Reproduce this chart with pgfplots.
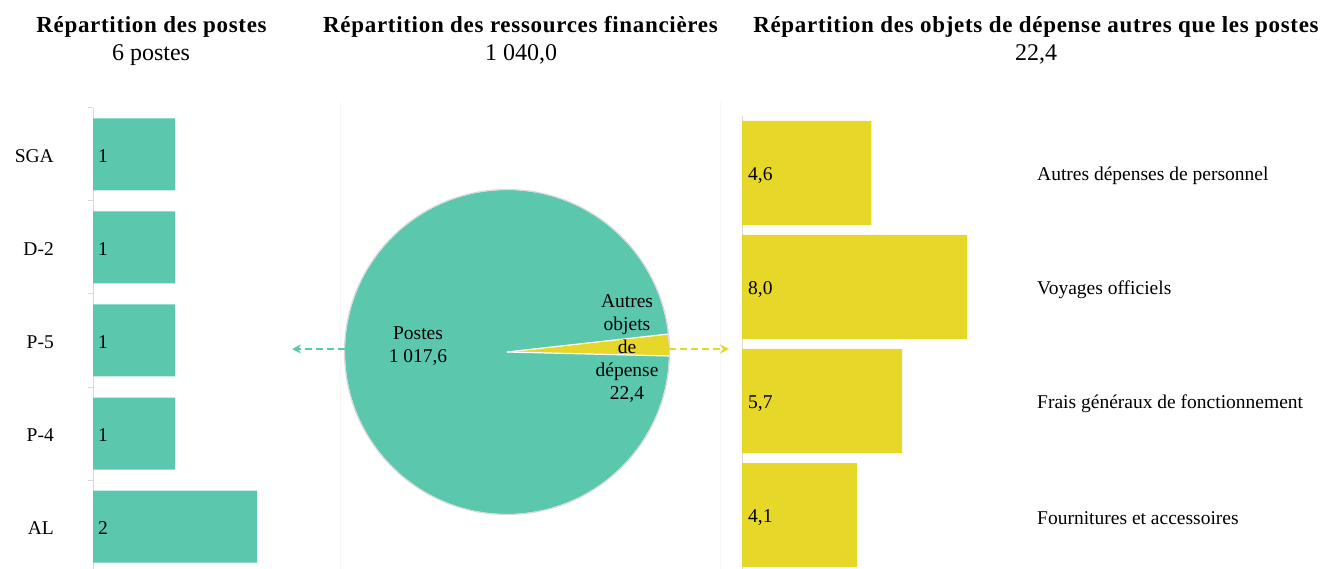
\documentclass[border=0pt]{standalone}
\usepackage{fontspec}
\setmainfont{Liberation Serif}
\usepackage{pgfplots}
\pgfplotsset{compat=1.18}
\usetikzlibrary{arrows.meta}
\definecolor{vert}{RGB}{91,200,174}
\definecolor{jaune}{RGB}{230,215,40}
\definecolor{axisgray}{RGB}{217,217,217}
\definecolor{faint}{RGB}{246,246,246}
\newcommand{\lab}{\fontsize{19.5bp}{23bp}\selectfont}
\newcommand{\ttl}{\fontsize{23bp}{27bp}\selectfont\bfseries\addfontfeatures{LetterSpace=3}}
\newcommand{\sub}{\fontsize{24bp}{28bp}\selectfont}
\def\postes{1017.6}
\def\autres{22.4}
\begin{document}
\begin{tikzpicture}[x=1bp,y=1bp]
\useasboundingbox (0,0) rectangle (1325,569);
% ---------- left panel: posts ----------
\begin{axis}[
  at={(93bp,461bp)}, anchor=north west,
  scale only axis, width=205bp, height=465bp,
  xmin=0, xmax=2.5, ymin=-0.5, ymax=4.5, y dir=reverse,
  axis x line=none, axis y line*=left,
  axis line style={axisgray, line width=1bp},
  ytick={0,1,2,3,4}, yticklabels={SGA,D-2,P-5,P-4,AL},
  major tick length=0pt,
  minor ytick={-0.5,0.5,1.5,2.5,3.5,4.5},
  minor tick length=5bp, tick align=outside,
  tick style={axisgray, line width=1bp},
  yticklabel style={font=\lab, anchor=east, inner sep=0pt, xshift=-39bp, yshift=-2bp},
  clip=false,
]
\addplot[xbar, bar width=72bp, bar shift=0pt, fill=vert, draw=none]
  coordinates {(1,0) (1,1) (1,2) (1,3) (2,4)};
\addplot[draw=none, mark=none, nodes near coords, point meta=explicit symbolic,
  nodes near coords style={anchor=west, font=\lab, inner sep=0pt, xshift=5bp, yshift=-2bp}]
  coordinates {(0,0) [1] (0,1) [1] (0,2) [1] (0,3) [1] (0,4) [2]};
\end{axis}
% ---------- right panel: other objects ----------
\begin{axis}[
  at={(742bp,453bp)}, anchor=north west,
  scale only axis, width=295bp, height=456bp,
  xmin=0, xmax=10.5, ymin=-0.5, ymax=3.5, y dir=reverse,
  axis x line=none, axis y line*=left,
  axis line style={axisgray, line width=1bp},
  ytick=\empty,
  clip=false,
]
\addplot[xbar, bar width=104bp, bar shift=0pt, fill=jaune, draw=none]
  coordinates {(4.6,0) (8.0,1) (5.7,2) (4.1,3)};
\addplot[draw=none, mark=none, nodes near coords, point meta=explicit symbolic,
  nodes near coords style={anchor=west, font=\lab, inner sep=0pt, xshift=6bp, yshift=-3bp}]
  coordinates {(0,0) [4,6] (0,1) [8,0] (0,2) [5,7] (0,3) [4,1]};
\addplot[draw=none, mark=none, nodes near coords, point meta=explicit symbolic,
  nodes near coords style={anchor=west, font=\lab, inner sep=0pt, yshift=-3bp}]
  coordinates {(10.5,0) [Autres dépenses de personnel] (10.5,1) [Voyages officiels]
               (10.5,2) [Frais généraux de fonctionnement] (10.5,3) [Fournitures et accessoires]};
\end{axis}
% ---------- middle panel: pie ----------
\draw[faint, line width=1bp] (340,0) -- (340,467);
\draw[faint, line width=1bp] (720,0) -- (720,467);
\pgfmathsetmacro{\ang}{360*\autres/(\postes+\autres)}
\pgfmathsetmacro{\st}{-1.4}
\pgfmathsetmacro{\en}{\st+\ang}
\fill[vert] (507,217) -- ++(\en:162) arc[start angle=\en, end angle=\st+360, radius=162] -- cycle;
\fill[jaune] (507,217) -- ++(\st:162) arc[start angle=\st, end angle=\en, radius=162] -- cycle;
\draw[axisgray, line width=1.2bp] (507,217) circle[radius=162.5];
\draw[white, line width=1.2bp] (507,217) -- ++(\st:162);
\draw[white, line width=1.2bp] (507,217) -- ++(\en:162);
\draw[vert, line width=2.5bp, dash pattern=on 7bp off 4bp, -{Stealth[length=9bp,width=9bp]}] (345,220) -- (292,220);
\draw[jaune, line width=2.5bp, dash pattern=on 7bp off 4bp, -{Stealth[length=9bp,width=9bp]}] (669,220) -- (729,220);
\node[font=\lab, align=center] at (418,223) {Postes\\1 017,6};
\node[font=\lab, align=center] at (627,220) {Autres\\objets\\de\\dépense\\22,4};
% ---------- titles ----------
\node[font=\ttl, anchor=base] at (151.5,536) {Répartition des postes};
\node[font=\sub, anchor=base] at (151,508) {6 postes};
\node[font=\ttl, anchor=base] at (520.5,536) {Répartition des ressources financières};
\node[font=\sub, anchor=base] at (521,508) {1 040,0};
\node[font=\ttl, anchor=base] at (1036,536) {Répartition des objets de dépense autres que les postes};
\node[font=\sub, anchor=base] at (1036,508) {22,4};
\end{tikzpicture}
\end{document}
